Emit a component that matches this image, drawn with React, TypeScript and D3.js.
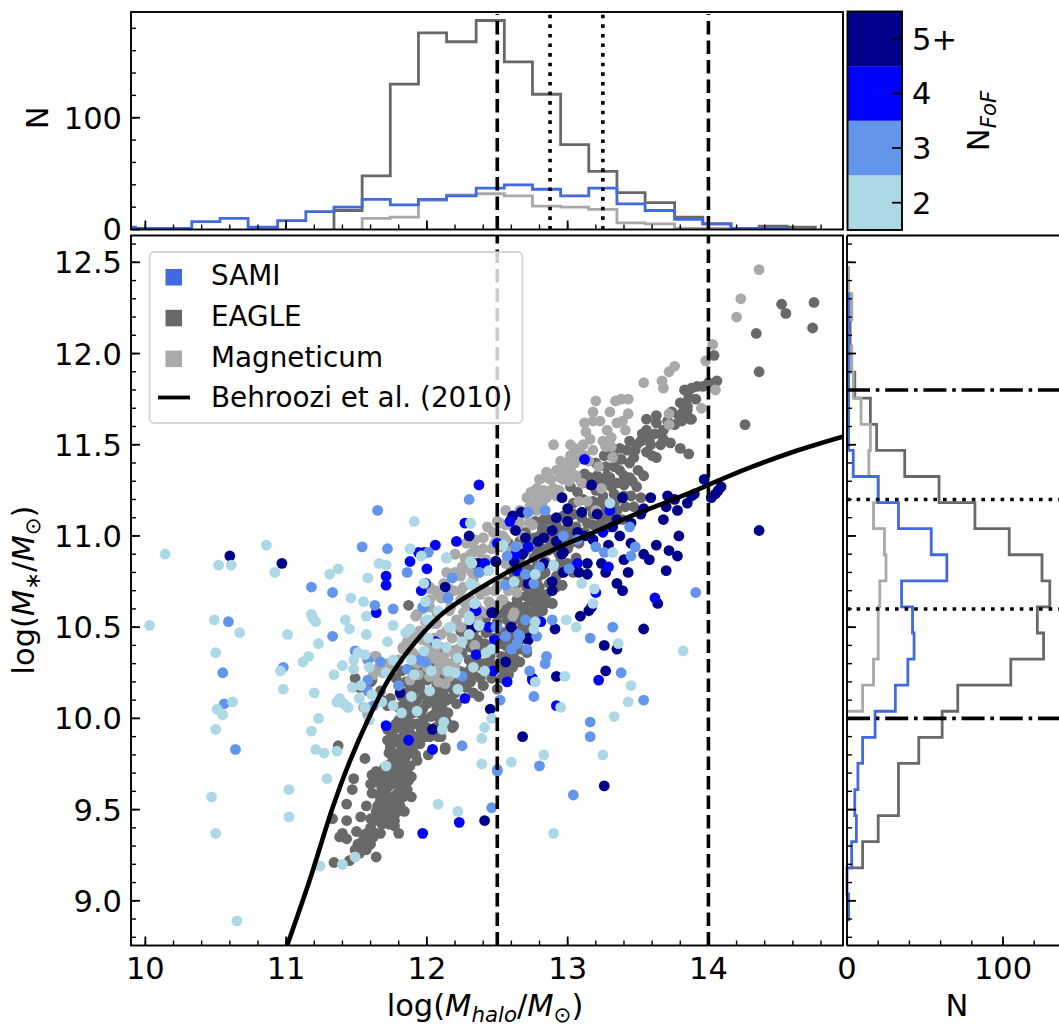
import React from 'react'
import * as d3 from 'd3'

type Pt = [number, number]

// scatter values, [log Mhalo, log Mstar]
const samiN5: Pt[] = [
  [10.6,10.89],[10.97,10.85],[11.98,10.91],[12.3,11.0],[12.13,10.72],[12.34,10.85],[12.49,10.86],[12.46,10.58],[12.33,10.5],[11.81,10.14],[12.45,10.05],[12.04,9.94],
  [13.17,11.28],[12.96,11.21],[13.39,11.21],[13.0,11.15],[13.1,11.13],[12.92,11.1],[13.21,11.12],[13.0,11.08],[12.89,11.03],[13.07,11.02],[12.83,10.99],[12.79,10.97],[12.7,10.99],[12.63,11.03],[12.61,11.11],[12.67,11.13],
  [13.12,11.0],[13.18,10.98],[13.32,11.05],[13.37,11.0],[13.35,11.09],[13.45,11.07],[13.52,11.12],[13.54,11.15],[13.59,11.21],[13.7,11.16],[13.68,11.09],[13.78,11.14],[13.85,11.18],[13.88,11.22],[13.9,11.23],[13.71,11.22],[13.76,11.2],[13.97,11.31],[14.02,11.21],[14.07,11.25],[14.05,11.23],[14.09,11.27],
  [13.79,11.0],[13.78,10.89],[13.72,10.92],[13.63,10.95],[13.45,10.96],[13.54,10.9],[13.58,10.87],[13.4,10.87],[13.43,10.8],[13.7,10.81],[13.29,10.95],[13.24,10.85],[13.27,10.8],[13.35,10.74],[13.39,10.7],[13.14,10.85],[13.14,10.79],[13.08,10.8],[12.97,10.8],[12.96,10.9],[12.92,10.97],[12.97,10.91],[12.89,10.75],[12.89,10.7],[12.83,10.85],[12.72,10.74],[12.62,10.86],[12.68,10.9],[12.49,10.86],[12.37,10.85],
  [13.17,10.61],[13.15,10.59],[13.09,10.56],[12.91,10.49],[12.6,10.5],[13.54,10.49],[13.64,10.63],[12.47,10.58],[12.32,10.5],[12.72,10.44],[13.26,10.4],[13.35,10.38],[13.27,10.26],[13.26,9.63],[12.41,9.44],[12.68,9.9],[12.92,10.23],[12.75,10.22],[12.56,10.31],[12.72,10.43],[14.36,11.03]
]

const samiN4: Pt[] = [
  [12.37,11.28],[12.27,11.07],[12.06,10.95],[12.21,10.97],[11.94,10.91],[11.88,10.86],[12.0,10.82],[12.41,10.85],[12.5,10.96],[11.71,10.78],[11.71,10.73],[11.99,10.74],[11.96,10.7],[11.64,10.58],[12.35,10.59],[12.44,10.5],[12.48,10.43],[12.35,10.35],[12.47,10.26],[12.27,10.11],[11.71,9.96],[11.87,9.88],[12.04,9.83],[12.06,10.42],
  [13.12,11.42],[13.3,11.14],[12.59,11.08],[12.72,10.94],[13.25,11.02],[13.29,10.83],[13.07,10.85],[12.64,10.81],[13.62,10.66],[13.2,10.69],[12.34,10.59],[12.81,10.53],[12.63,10.9],[13.22,10.21],[12.57,10.2],[12.75,10.21],[12.92,10.07],[12.23,9.43],[11.97,9.37]
]

const samiN3: Pt[] = [
  [11.65,11.14],[11.54,10.94],[11.72,10.93],[11.86,10.8],[12.3,11.2],[12.01,10.91],[11.18,10.72],[11.33,10.69],[11.63,10.62],[11.76,10.6],[10.59,10.53],[11.33,10.45],[11.49,10.37],[11.58,10.32],[10.98,10.28],[10.55,10.25],[11.67,10.31],[11.86,10.27],[11.95,10.32],[11.99,10.31],[10.56,10.08],[10.64,9.83],[11.58,10.21],[11.58,10.15],[11.62,10.07],[11.8,10.18],[12.15,10.66],[11.97,10.61],[12.18,10.77],[12.37,10.8],[12.25,10.23],[12.25,9.85],[12.5,9.72],[12.5,10.5],
  [12.84,11.14],[12.72,11.13],[12.97,11.0],[13.07,10.98],[13.2,10.94],[13.26,10.91],[13.48,10.94],[13.45,10.89],[13.44,11.05],[13.91,10.69],[12.14,10.88],[12.63,10.94],[12.57,10.89],[12.8,10.83],[13.01,10.82],[12.7,10.79],[12.56,10.73],[12.76,10.74],[12.37,10.8],[12.18,10.77],[12.15,10.66],[11.98,10.61],[12.49,10.5],[12.89,10.54],[12.7,10.54],[12.78,10.45],[12.66,10.45],[13.32,10.5],[13.16,10.44],[12.56,10.45],
  [13.38,10.25],[13.54,10.1],[13.16,9.98],[13.16,9.9],[13.04,9.58],[12.5,9.71],[12.46,9.51],[12.8,9.74],[12.52,10.1],[12.76,10.12],[12.73,10.26],[12.84,10.3],[12.85,10.34],[12.65,10.46],[12.6,10.38],[12.64,10.41],[12.71,10.38]
]

const samiN2: Pt[] = [
  [10.14,10.9],[10.86,10.95],[10.52,10.84],[10.61,10.84],[10.92,10.8],[10.03,10.51],[10.49,10.54],[10.67,10.47],[11.01,10.46],[10.5,10.36],[10.96,10.26],[10.98,10.16],[10.62,10.09],[10.51,10.05],[10.55,10.02],[10.5,9.94],[10.65,8.89],[10.47,9.57],[10.5,9.37],[11.02,9.61],[11.02,9.46],
  [11.31,10.79],[11.37,10.82],[11.58,10.77],[11.66,10.85],[11.71,10.84],[11.91,11.08],[11.88,10.93],[11.96,10.89],[11.46,10.66],[11.55,10.64],[11.18,10.57],[11.19,10.55],[11.21,10.53],[11.42,10.54],[11.57,10.56],[11.45,10.49],[11.57,10.46],[11.76,10.51],[11.72,10.42],[11.23,10.41],[11.16,10.34],[11.12,10.31],[11.34,10.24],[11.4,10.29],[11.48,10.32],[11.48,10.27],[11.51,10.36],[11.56,10.35],[11.59,10.28],[11.2,10.14],[11.38,10.11],[11.36,10.09],[11.41,10.08],[11.44,10.06],[11.47,10.17],[11.53,10.18],[11.52,10.11],[11.56,10.06],[11.61,10.13],[11.68,10.09],[11.76,10.07],[11.71,10.25],[11.76,10.32],[11.82,10.03],[11.59,9.99],[11.23,10.0],[11.18,9.93],[11.21,9.83],[11.27,9.81],[11.36,9.82],[11.29,9.67],[11.71,9.74],
  [11.88,10.49],[11.85,10.47],[11.89,10.32],[11.91,10.24],[11.98,10.37],[12.03,10.26],[12.01,10.44],[12.07,10.41],[12.14,10.39],[12.01,10.54],[12.17,10.5],[12.25,10.42],[12.22,10.33],[12.15,10.26],[12.2,10.25],[12.33,10.28],[12.41,10.26],[12.22,10.16],[12.02,10.15],[11.89,10.12],[11.93,10.04],[12.12,9.98],[12.11,9.94],[12.46,10.0],[12.41,9.95],[12.39,9.89],[12.39,9.75],[12.3,10.55],[12.3,10.46],[12.37,10.51],[12.34,10.63],[12.32,10.73],[12.32,10.85],[12.14,10.88],[12.31,11.07],[12.42,10.36],[12.46,10.38],[11.99,10.64],[11.98,10.74],[12.35,10.72],
  [12.31,11.07],[12.54,10.95],[12.14,10.88],[12.31,10.86],[12.9,10.84],[12.77,10.79],[12.62,10.75],[12.31,10.74],[12.44,10.81],[13.1,10.74],[13.19,10.71],[13.3,11.18],[13.32,10.91],[13.18,10.63],[12.99,10.54],[13.06,10.5],[12.77,10.53],[12.76,10.49],[12.37,10.51],[12.3,10.56],[12.3,10.54],[12.34,10.63],[12.16,10.5],[12.0,10.54],[12.08,10.59],
  [13.82,10.37],[13.36,10.41],[13.43,10.09],[13.33,10.01],[13.25,9.8],[12.08,9.53],[12.22,9.49],[12.9,9.37],[11.49,9.24],[11.4,9.2],[11.24,9.19],[12.6,9.76],[12.83,9.8],[12.77,10.2],[12.95,10.06],[12.98,10.23],[13.45,10.18]
]

const eagle: Pt[] = [
  // low mass tail
  [11.34,9.21],[11.45,9.22],[11.64,9.24],[11.8,9.37],[11.4,9.37],[11.43,9.34],[11.43,9.44],[11.43,9.53],[11.47,9.61],[11.48,9.67],[11.56,9.78],[11.37,9.85],[11.38,9.35],[11.33,9.45],
  [11.49,9.28],[11.54,9.3],[11.57,9.28],[11.51,9.31],[11.58,9.33],[11.57,9.37],[11.5,9.38],[11.64,9.37],[11.67,9.37],[11.53,9.46],[11.57,9.52],[11.63,9.44],[11.67,9.46],[11.69,9.5],[11.71,9.52],[11.77,9.44],[11.73,9.42],[11.77,9.41],[11.84,9.49],[11.74,9.54],[11.79,9.53],[11.67,9.55],[11.7,9.59],[11.76,9.57],[11.83,9.57],[11.89,9.57],[11.86,9.61],[11.81,9.63],[11.75,9.64],[11.68,9.61],[11.61,9.59],[11.6,9.64],[11.61,9.69],[11.64,9.71],[11.69,9.69],[11.89,9.68],[11.86,9.74],[11.81,9.75],[11.79,9.79],[11.73,9.81],[11.74,9.84],[11.81,9.86],[11.88,9.81],[11.93,9.77],[11.77,9.74],[11.81,9.7],[11.86,9.7],[11.75,9.92],[11.79,9.95],[11.83,9.94],[11.9,9.97],[11.96,9.94],[12.02,9.9],[12.1,9.9],[12.13,9.84],[12.01,9.8],[11.95,9.86],[11.91,9.9],[11.86,10.0],[11.9,10.03],[11.98,10.0],[12.03,10.01],[12.09,10.0],[12.19,9.96],[12.15,10.03],[12.21,10.08],[12.14,10.1],[12.07,10.06],[12.0,10.08],[11.93,10.1],[11.86,10.1],[11.88,10.16],[11.95,10.17],[12.0,10.21],[12.07,10.19],[12.09,10.14],[12.03,10.14],
  [11.8,9.99],[11.84,10.05],[11.95,10.03],[12.02,10.11],[11.92,9.8],[11.84,9.82],[11.88,9.86],[11.78,9.89],[11.85,9.9],[12.06,9.95],[11.99,9.9],[11.72,9.88],[11.82,9.78],[11.76,9.7],[11.72,9.62],[11.65,9.52],[11.74,9.47],[11.6,9.4],
  [11.52,9.26],[11.55,9.34],[11.6,9.31],[11.62,9.35],[11.6,9.45],[11.64,9.49],[11.68,9.42],[11.71,9.46],[11.74,9.5],[11.78,9.48],[11.81,9.52],[11.66,9.58],[11.72,9.56],[11.79,9.59],[11.64,9.65],[11.67,9.66],[11.72,9.67],[11.78,9.67],[11.83,9.65],[11.87,9.66],[11.7,9.73],[11.74,9.75],[11.79,9.72],[11.84,9.73],[11.88,9.74],[11.76,9.78],[11.8,9.81],[11.85,9.79],[11.9,9.84],[11.76,9.87],[11.82,9.89],[11.88,9.92],[11.94,9.9],[11.72,9.94],[11.78,9.97],[11.83,10.0],[11.86,9.97],[11.93,9.97],[11.97,9.97],[12.0,9.95],[12.04,9.92],[12.08,9.93],[12.11,9.95],[12.14,9.98],[12.12,10.04],[12.05,10.02],[11.97,10.05],[11.91,10.06],[11.84,10.08],[11.8,10.06],[11.82,10.12],[11.9,10.13],[11.98,10.13],[12.05,10.1],[12.11,10.08],[12.17,10.11],[12.2,10.14],[12.12,10.16],[12.22,10.19],[12.17,10.22],[12.1,10.22],[12.04,10.24],[11.96,10.21],[11.92,10.23],[11.85,10.2],[11.8,10.18],[11.78,10.22],[11.82,10.26],[11.88,10.27],[11.95,10.27],[12.02,10.3],[11.98,10.32],[12.1,10.27],[12.16,10.26],
  [11.74,10.11],[11.68,10.1],[11.67,10.15],[11.49,10.22],[11.61,10.21],[11.52,10.17],[11.6,10.2],[11.56,10.17],[11.72,10.07],[11.69,10.09],[12.18,9.95],[12.13,9.83],[12.08,9.9],[12.4,10.18],[12.3,10.21],[12.26,10.25],[11.87,10.62],[11.9,10.44],
  // middle of the band
  [11.95,10.16],[12.07,10.17],[12.26,10.21],[12.31,10.2],[12.4,10.18],[12.16,10.17],[12.0,10.23],[11.9,10.19],[11.83,10.14],[12.12,10.12],[12.31,10.27],[12.4,10.3],[12.45,10.34],[12.33,10.47],[12.41,10.41],[12.26,10.43],[12.19,10.37],[12.31,10.39],[12.21,10.32],[12.09,10.39],[12.23,10.26],[12.35,10.33],[12.46,10.22],[12.25,10.36],[12.38,10.37],
  [12.28,10.17],[12.33,10.14],[12.37,10.12],[12.33,10.24],[12.38,10.22],[12.43,10.26],[12.3,10.32],[12.36,10.29],[12.42,10.3],[12.47,10.29],[12.48,10.38],[12.43,10.38],[12.36,10.43],[12.29,10.43],[12.24,10.48],[12.3,10.51],[12.36,10.5],[12.43,10.48],
  [12.5,10.16],[12.53,10.22],[12.58,10.24],[12.52,10.3],[12.57,10.32],[12.62,10.33],[12.66,10.31],[12.56,10.4],[12.62,10.41],[12.66,10.38],[12.7,10.44],[12.6,10.46],[12.65,10.48],[12.71,10.49],[12.76,10.47],[12.74,10.53],[12.68,10.56],[12.63,10.58],[12.57,10.54],[12.52,10.58],[12.78,10.58],[12.84,10.63],[12.8,10.62],[12.85,10.68],[12.8,10.72],[12.87,10.74],[12.74,10.74],[12.68,10.77],[12.62,10.78],[12.72,10.82],[12.78,10.83],[12.84,10.8],[12.9,10.84],[12.96,10.8],[13.0,10.85],[13.04,10.8],[12.94,10.9],[13.02,10.96],[12.96,10.98],[12.88,10.96],[12.82,10.93],[12.78,10.92],[12.72,10.96],[12.66,10.88],[12.62,10.9],[12.58,10.96],[12.66,10.97],[12.7,11.02],[12.8,11.0],[12.86,11.03],[12.92,11.06],[13.0,11.02],[13.06,11.05],[13.12,11.02],[13.18,11.06],[13.24,11.08],[13.3,11.1],[13.1,11.12],[13.16,11.16],[13.22,11.18],[13.28,11.18],[13.34,11.19],[13.4,11.22],[13.45,11.22],[13.4,11.28],[13.46,11.3],[13.31,11.27],[13.23,11.3],[13.16,11.32],[13.08,11.32],[13.2,11.4],[13.26,11.44],[13.3,11.47],[13.38,11.42],[13.44,11.4],[13.5,11.36],[13.54,11.33],[13.48,11.47],[13.52,11.52],[13.58,11.53],[13.6,11.44],[13.66,11.5],[13.68,11.58],[13.71,11.63],[13.74,11.68],[13.82,11.68],[13.86,11.76],[13.83,11.8],[13.92,11.82],
  [12.54,10.27],[12.61,10.28],[12.53,10.34],[12.59,10.37],[12.66,10.43],[12.71,10.36],[12.53,10.41],[12.54,10.47],[12.59,10.5],[12.54,10.58],[12.61,10.61],[12.69,10.61],[12.76,10.63],[12.8,10.67],[12.71,10.67],[12.78,10.72],[12.71,10.72],[12.82,10.59],[12.89,10.63],[12.82,10.79],[12.78,10.98],[12.83,11.09],[12.87,11.09],[12.87,10.99],[12.95,11.03],[12.99,11.09],[13.04,10.99],[13.04,11.12],[12.96,10.73],[12.92,10.78],[12.66,10.67],[12.42,10.47],[12.5,10.53],[12.57,10.44],[12.62,10.54],[12.68,10.52],[12.56,10.62],[12.48,10.44],[12.42,10.55],[12.46,10.62],[12.64,10.74],[12.74,10.79],[12.84,10.86],[12.9,10.93],[12.94,10.85],[13.0,10.93],[13.06,10.88],[13.08,10.96],[12.86,10.92],[12.76,10.88],[12.68,10.82],[12.6,10.82],[12.56,10.75],[12.7,10.92],
  // upper branch
  [13.88,11.81],[13.91,11.75],[13.8,11.73],[13.85,11.69],[13.79,11.66],[13.88,11.64],[13.63,11.66],[13.56,11.64],[13.63,11.62],[13.56,11.58],[13.53,11.56],[13.62,11.56],[13.68,11.53],[13.73,11.51],[13.8,11.48],[13.86,11.45],[13.44,11.52],[13.49,11.5],[13.42,11.47],[13.59,11.5],[13.56,11.46],[13.63,11.43],[13.47,11.43],[13.37,11.48],[13.33,11.43],[13.27,11.38],[13.37,11.36],[13.4,11.33],[13.33,11.38],[13.44,11.32],[13.49,11.27],[13.52,11.21],[13.35,11.29],[13.28,11.33],[13.21,11.33],[13.12,11.34],[13.11,11.29],[13.02,11.27],[13.07,11.24],[13.2,11.25],[13.33,11.23],[13.25,11.22],[13.18,11.19],[13.11,11.2],[13.04,11.18],[13.35,11.14],[13.41,11.16],[13.47,11.16],[13.18,11.12],[13.04,11.12],[12.97,11.11],[12.85,11.09],[12.77,11.08],[12.82,11.04],[12.76,10.99],[13.14,11.07],[13.28,11.11],[12.92,10.72],[12.96,10.73],[12.89,10.63],[12.82,10.59],[12.77,10.69],[12.78,10.76],[12.71,10.72],[12.64,10.65],[12.66,10.61],[12.58,10.6],[12.73,10.65],[12.73,10.58],
  [14.75,12.28],[14.52,12.27],[14.55,12.22],[14.74,12.14],[14.34,12.11],[14.36,11.9],[14.26,11.61],[14.04,11.99],[14.06,11.85],[14.0,11.84],[13.96,11.82],[13.85,11.71],[13.85,11.66],[13.87,11.64],[13.81,11.63],[13.76,11.61],
  [13.15,11.0],[13.22,11.05],[13.1,11.1],[13.25,11.15],[12.92,11.02],[13.0,11.05],[13.3,11.05],[13.39,11.09],[13.3,11.32],[13.16,11.28],[13.25,11.29]
]

const magneticum: Pt[] = [
  [14.36,12.46],[14.23,12.3],[14.2,12.2],[14.03,12.05],[13.98,11.96],[14.05,11.8],[13.95,11.7],[13.76,11.93],[13.72,11.9],[13.54,11.84],[13.67,11.85],[13.68,11.81],[13.38,11.75],[13.43,11.75],[13.2,11.74],[13.18,11.68],[13.43,11.67],[13.39,11.63],[13.23,11.63],[13.18,11.63],[13.72,11.67],[13.72,11.61],[13.41,11.58],[13.28,11.58],[13.31,11.54],[13.13,11.57],[13.16,11.53],[12.9,11.5],[13.11,11.5],[13.05,11.48],[13.18,11.47],[13.27,11.49],[13.31,11.49],[13.04,11.44],[12.95,11.41],[13.05,11.4],[13.1,11.43],[12.85,11.35],[12.97,11.36],[12.95,11.32],[12.8,11.31],[12.88,11.31],[12.83,11.25],[12.9,11.26],[12.97,11.31],[13.32,11.43],[13.22,11.38],[13.1,11.29],[13.24,11.26],[13.08,11.19],[13.14,11.19],[13.2,11.14],[12.85,11.21],[12.92,11.22],
  [12.71,11.21],[12.79,11.22],[12.73,11.16],[12.52,11.07],[12.49,11.01],[12.4,10.99],[12.34,10.93],[12.2,10.9],[12.25,10.83],[12.14,10.8],[12.38,10.92],[12.75,11.06],[12.64,10.94],[12.54,11.0],[12.52,10.94],[12.24,10.78],[12.43,10.81],[12.33,10.76],[12.19,10.7],[12.26,10.72],[12.09,10.67],[12.02,10.61],[12.17,10.61],[12.24,10.65],[12.38,10.69],[12.45,10.63],[12.31,10.63],[12.53,10.65],[12.64,10.69],[12.52,10.74],[12.62,10.58],
  [12.4,10.99],[12.37,10.91],[12.31,10.9],[12.4,10.93],[12.27,10.88],[12.24,10.79],[12.32,10.8],[12.16,10.71],[12.1,10.66],[12.24,10.7],[12.02,10.72],[11.93,10.57],[11.99,10.53],[12.07,10.58],[12.16,10.59],[12.31,10.65],[12.38,10.68],[12.44,10.64],[12.38,10.59],[12.26,10.58],[12.21,10.54],[12.14,10.48],[12.07,10.52],[11.9,10.45],[11.83,10.39],[12.07,10.39],[12.12,10.34],[12.02,10.36],[12.09,10.3],[12.16,10.3],[12.02,10.23],[11.93,10.3],[11.63,10.34],[11.74,10.27],[11.97,10.43],[12.34,10.4],[12.54,10.65],[12.61,10.56],[12.73,11.07],[12.66,11.07],[12.78,11.14],[12.5,11.01],[12.46,10.93],
  [11.64,10.34],[11.69,10.25],[11.55,10.06],[11.92,10.56],[12.02,10.71],[12.08,10.58],[12.13,10.66],[12.2,10.9],[12.25,10.82],[12.35,10.92],[12.47,11.02],[12.3,10.88],[12.08,10.34],[12.02,10.23],[12.1,10.31],[12.19,10.36],[12.02,10.39],[12.13,10.19],[12.16,10.23],[11.83,10.38],[11.88,10.21],[12.56,10.85],[12.6,10.92],[12.68,11.0],[13.0,11.33],[13.02,11.37],[12.94,11.25],
  [12.56,10.98],[12.62,11.04],[12.7,11.12],[12.76,11.18],[12.82,11.18],[12.88,11.25],[12.86,11.32],[12.92,11.36],[12.99,11.4],[13.02,11.44],[13.08,11.46],[13.12,11.44],[13.15,11.41],[13.06,11.33],[13.01,11.3],[12.78,11.26],[12.74,11.24],[12.66,11.14],[12.6,11.1],[12.56,11.06],[12.48,10.96],[12.42,10.87],[12.37,10.85],[12.3,10.82],[12.2,10.8],[12.12,10.74],[12.06,10.7],[12.02,10.65],[11.97,10.6],[12.04,10.52],[12.1,10.46],[12.18,10.44],[12.24,10.5],[12.28,10.62],[12.35,10.62],[12.42,10.7],[12.48,10.7],[12.5,10.62],[12.58,10.7],[12.42,10.58],[12.36,10.54],
  [12.05,10.44],[12.0,10.44],[11.95,10.48],[11.86,10.42],[11.9,10.36],[11.96,10.34],[12.04,10.33],[12.13,10.26],[12.06,10.25],[12.08,10.2],[12.0,10.28],[11.94,10.24],[11.8,10.32],[11.72,10.3],[11.66,10.28],[11.62,10.24],[11.58,10.02],[11.6,10.06],[12.2,10.28],[12.22,10.38],[12.5,10.72],[12.28,10.96],[12.34,10.98],[12.43,11.05],[12.5,11.08],[12.56,11.14],[13.35,11.62],[13.25,11.52],[13.12,11.62],[13.02,11.5],[13.3,11.68],[13.34,11.74]
]

const behroozi: Pt[] = [
  [11.0,8.74],[11.17,9.12],[11.33,9.51],[11.45,9.76],[11.58,9.99],[11.74,10.23],[11.93,10.43],[12.12,10.58],[12.5,10.77],[12.9,10.925],[13.14,11.005],[13.47,11.115],[13.85,11.23],[14.0,11.28],[14.28,11.37],[14.6,11.46],[14.96,11.545]
]

// top panel histograms (halo mass)
const massEdges = [9.73,9.93,10.13,10.33,10.53,10.73,10.94,11.14,11.34,11.54,11.74,11.94,12.14,12.35,12.55,12.75,12.95,13.15,13.35,13.55,13.76,13.96,14.16,14.36,14.56,14.76]
const massSami = [2,1,1,7,10,2,8,16,20,27,22,27,30,37,40,36,30,37,23,17,9,5,1,1,0]
const massEagle = [0,0,0,0,0,0,0,0,17,48,130,176,168,187,150,121,76,52,33,24,11,5,1,3,2]
const massMagneticum = [0,0,0,0,0,0,0,0,0,10,11,26,31,32,30,21,20,18,6,5,1,1,0,0,0]

// right panel histograms (stellar mass), top bin first
const starEdges = [12.47,12.327,12.184,12.041,11.898,11.755,11.612,11.469,11.326,11.183,11.04,10.897,10.754,10.611,10.468,10.325,10.182,10.039,9.896,9.753,9.61,9.467,9.324,9.181,9.038,8.895]
const starSami = [0,1,1,1,1,1,1,4,20,33,54,64,35,42,43,39,31,18,10,7,5,6,3,0,1]
const starEagle = [1,3,2,3,5,15,19,37,59,82,104,125,130,122,126,105,71,61,46,33,33,20,10,0,0]
const starMagneticum = [1,3,1,3,4,9,15,14,20,17,24,25,21,20,20,17,10,0,0,0,0,0,0,0,0]

const nfofLabels = ['2', '3', '4', '5+']
const nfofColors = ['#add8e6', '#6495ed', '#0000ff', '#00008b']

const SAMI = '#4169e1'
const EAGLE = '#696969'
const MAGN = '#a9a9a9'
const FONT = "'DejaVu Sans', sans-serif"
const FS = 30.5
const SUB = 21.3
const LEG = 27.8
const LW = 3.6

const mainBox = { l: 131, r: 843, t: 235.5, b: 945.5 }
const topBox = { l: 131, r: 843, t: 12, b: 229.5 }
const sideBox = { l: 847, r: 1059, t: 235.5, b: 945.5 }
const barBox = { l: 847.5, r: 902, t: 11.5, b: 230 }

const x = d3.scaleLinear().domain([9.898, 14.956]).range([mainBox.l, mainBox.r])
const y = d3.scaleLinear().domain([8.755, 12.647]).range([mainBox.b, mainBox.t])
const yTop = d3.scaleLinear().domain([0, 194.6]).range([topBox.b, topBox.t])
const xSide = d3.scaleLinear().domain([0, 135.9]).range([sideBox.l, sideBox.r])
const yBar = d3.scaleLinear().domain([0, 4]).range([barBox.b, barBox.t])

const stepPts = (edges: number[], counts: number[]) => {
  const first = counts.findIndex((c) => c > 0)
  let last = counts.length - 1
  while (counts[last] === 0) last--
  const out: Pt[] = [[edges[first], 0]]
  for (let i = first; i <= last; i++) {
    out.push([edges[i], counts[i]], [edges[i + 1], counts[i]])
  }
  out.push([edges[last + 1], 0])
  return out
}

const topLine = d3.line<Pt>().x((d) => x(d[0])).y((d) => yTop(d[1]))
const sideLine = d3.line<Pt>().x((d) => xSide(d[1])).y((d) => y(d[0]))
const curveLine = d3.line<Pt>().x((d) => x(d[0])).y((d) => y(d[1])).curve(d3.curveCatmullRom)

const ticks = (lo: number, hi: number, step: number) =>
  d3.range(Math.round(lo / step), Math.round(hi / step) + 1).map((i) => i * step)

const Spots = ({ pts, fill }: { pts: Pt[]; fill: string }) => (
  <g fill={fill}>
    {pts.map((d, i) => (
      <circle key={i} cx={x(d[0])} cy={y(d[1])} r={5.4} />
    ))}
  </g>
)

const XTicks = ({ box, scale, major, minor }: any) => (
  <g stroke="#000">
    {minor.map((v: number) => (
      <line key={v} x1={scale(v)} x2={scale(v)} y1={box.b} y2={box.b - 5} strokeWidth={1.4} />
    ))}
    {major.map((v: number) => (
      <line key={v} x1={scale(v)} x2={scale(v)} y1={box.b} y2={box.b - 9} strokeWidth={1.8} />
    ))}
  </g>
)

const YTicks = ({ box, scale, major, minor }: any) => (
  <g stroke="#000">
    {minor.map((v: number) => (
      <line key={v} y1={scale(v)} y2={scale(v)} x1={box.l} x2={box.l + 5} strokeWidth={1.4} />
    ))}
    {major.map((v: number) => (
      <line key={v} y1={scale(v)} y2={scale(v)} x1={box.l} x2={box.l + 9} strokeWidth={1.8} />
    ))}
  </g>
)

const Frame = ({ box }: any) => (
  <rect x={box.l} y={box.t} width={box.r - box.l} height={box.b - box.t} fill="none" stroke="#000" strokeWidth={1.9} />
)

const legendRows = [
  { label: 'SAMI', color: SAMI },
  { label: 'EAGLE', color: EAGLE },
  { label: 'Magneticum', color: MAGN }
]

export default function App() {
  const xMajor = ticks(10, 14, 1)
  const xMinor = ticks(10, 14.8, 0.2)
  const yMajor = ticks(9, 12.5, 0.5)
  const yMinor = ticks(8.8, 12.6, 0.1)
  const nSideMinor = ticks(20, 120, 20)
  const nTopMinor = ticks(20, 180, 20)

  return (
    <svg
      width={1059}
      height={1026}
      style={{ position: 'absolute', left: 0, top: 0, background: '#fff' }}
      fontFamily={FONT}
      fontSize={FS}
    >
      <defs>
        <clipPath id="mainClip">
          <rect x={mainBox.l} y={mainBox.t} width={mainBox.r - mainBox.l} height={mainBox.b - mainBox.t} />
        </clipPath>
        <clipPath id="topClip">
          <rect x={topBox.l} y={topBox.t} width={topBox.r - topBox.l} height={topBox.b - topBox.t} />
        </clipPath>
      </defs>

      {/* top histogram */}
      <g clipPath="url(#topClip)" fill="none" strokeWidth={2.8}>
        <path d={topLine(stepPts(massEdges, massEagle)) as string} stroke={EAGLE} />
        <path d={topLine(stepPts(massEdges, massMagneticum)) as string} stroke={MAGN} />
        <path d={topLine(stepPts(massEdges, massSami)) as string} stroke={SAMI} />
      </g>
      <g stroke="#000" strokeWidth={LW}>
        {[12.5, 14].map((v) => (
          <line key={v} x1={x(v)} x2={x(v)} y1={topBox.b} y2={topBox.t + 2} strokeDasharray="13.5 6" />
        ))}
        {[12.875, 13.25].map((v) => (
          <line key={v} x1={x(v)} x2={x(v)} y1={topBox.b} y2={topBox.t + 2} strokeDasharray="3.6 6" />
        ))}
      </g>
      <XTicks box={topBox} scale={x} major={xMajor} minor={xMinor} />
      <YTicks box={topBox} scale={yTop} major={[0, 100]} minor={nTopMinor} />
      <Frame box={topBox} />
      <g textAnchor="end">
        <text x={122} y={yTop(100)} dy="0.36em">100</text>
        <text x={122} y={yTop(0)} dy="0.36em">0</text>
      </g>
      <text transform={`translate(37,${yTop(100)}) rotate(-90)`} textAnchor="middle" dy="0.36em">N</text>

      {/* colour bar */}
      {nfofColors.map((c, i) => (
        <rect key={c} x={barBox.l} width={barBox.r - barBox.l} y={yBar(i + 1)} height={yBar(i) - yBar(i + 1)} fill={c} />
      ))}
      <rect x={barBox.l} y={barBox.t} width={barBox.r - barBox.l} height={barBox.b - barBox.t} fill="none" stroke="#000" strokeWidth={1.9} />
      {nfofLabels.map((t, i) => (
        <g key={t}>
          <line x1={barBox.r - 10} x2={barBox.r} y1={yBar(i + 0.5)} y2={yBar(i + 0.5)} stroke="#000" strokeWidth={1.8} />
          <text x={912} y={yBar(i + 0.5)} dy="0.36em">{t}</text>
        </g>
      ))}
      <text transform="translate(978,121) rotate(-90)" textAnchor="middle" dy="0.36em">
        N<tspan fontStyle="italic" fontSize={SUB} dy="7">FoF</tspan>
      </text>

      {/* main scatter */}
      <g clipPath="url(#mainClip)">
        <Spots pts={eagle} fill={EAGLE} />
        <Spots pts={magneticum} fill={MAGN} />
        <Spots pts={samiN5} fill={nfofColors[3]} />
        <Spots pts={samiN4} fill={nfofColors[2]} />
        <Spots pts={samiN3} fill={nfofColors[1]} />
        <Spots pts={samiN2} fill={nfofColors[0]} />
        <g stroke="#000" strokeWidth={LW}>
          {[12.5, 14].map((v) => (
            <line key={v} x1={x(v)} x2={x(v)} y1={mainBox.b} y2={mainBox.t} strokeDasharray="13.5 6" />
          ))}
        </g>
        <path d={curveLine(behroozi) as string} fill="none" stroke="#000" strokeWidth={4.6} />
      </g>
      <XTicks box={mainBox} scale={x} major={xMajor} minor={xMinor} />
      <YTicks box={mainBox} scale={y} major={yMajor} minor={yMinor} />
      <Frame box={mainBox} />

      {/* legend */}
      <rect x={149.5} y={252} width={373} height={171} rx={5} fill="#fff" fillOpacity={0.8} stroke="#ccc" strokeOpacity={0.8} strokeWidth={1.9} />
      {legendRows.map((r, i) => (
        <g key={r.label}>
          <rect x={165.5} y={269 + i * 40.8} width={16.5} height={16.5} fill={r.color} />
          <text x={211} y={275.3 + i * 40.8} dy="0.36em" fontSize={LEG}>{r.label}</text>
        </g>
      ))}
      <line x1={158} x2={190} y1={397.5} y2={397.5} stroke="#000" strokeWidth={3.8} />
      <text x={211} y={396.5} dy="0.36em" fontSize={LEG}>Behroozi et al. (2010)</text>

      {xMajor.map((v) => (
        <text key={v} x={x(v)} y={968} dy="0.36em" textAnchor="middle">{v}</text>
      ))}
      {yMajor.map((v) => (
        <text key={v} x={122} y={y(v)} dy="0.36em" textAnchor="end">{v.toFixed(1)}</text>
      ))}
      <text x={485} y={1016} textAnchor="middle">
        log(<tspan fontStyle="italic">M</tspan><tspan fontStyle="italic" fontSize={SUB} dy="6">halo</tspan>
        <tspan dy="-6">/</tspan><tspan fontStyle="italic">M</tspan><tspan fontSize={SUB} dy="6">⊙</tspan><tspan dy="-6">)</tspan>
      </text>
      <text transform={`translate(34,590) rotate(-90)`} textAnchor="middle">
        log(<tspan fontStyle="italic">M</tspan><tspan fontSize={SUB} dy="6">∗</tspan>
        <tspan dy="-6">/</tspan><tspan fontStyle="italic">M</tspan><tspan fontSize={SUB} dy="6">⊙</tspan><tspan dy="-6">)</tspan>
      </text>

      {/* right histogram */}
      <g fill="none" strokeWidth={2.8}>
        <path d={sideLine(stepPts(starEdges, starEagle)) as string} stroke={EAGLE} />
        <path d={sideLine(stepPts(starEdges, starMagneticum)) as string} stroke={MAGN} />
        <path d={sideLine(stepPts(starEdges, starSami)) as string} stroke={SAMI} />
      </g>
      <g stroke="#000" strokeWidth={LW}>
        {[11.8, 10].map((v) => (
          <line key={v} x1={sideBox.l} x2={sideBox.r} y1={y(v)} y2={y(v)} strokeDasharray="23 5.8 3.6 5.8" />
        ))}
        {[11.2, 10.6].map((v) => (
          <line key={v} x1={sideBox.l} x2={sideBox.r} y1={y(v)} y2={y(v)} strokeDasharray="3.6 6" />
        ))}
      </g>
      <XTicks box={sideBox} scale={xSide} major={[0, 100]} minor={nSideMinor} />
      <YTicks box={sideBox} scale={y} major={yMajor} minor={yMinor} />
      <line x1={sideBox.l} x2={sideBox.l} y1={sideBox.t} y2={sideBox.b} stroke="#000" strokeWidth={1.9} />
      <line x1={sideBox.l} x2={1059} y1={sideBox.t} y2={sideBox.t} stroke="#000" strokeWidth={1.9} />
      <line x1={sideBox.l} x2={1059} y1={sideBox.b} y2={sideBox.b} stroke="#000" strokeWidth={1.9} />
      <text x={xSide(0)} y={968} dy="0.36em" textAnchor="middle">0</text>
      <text x={xSide(100)} y={968} dy="0.36em" textAnchor="middle">100</text>
      <text x={957} y={1016} textAnchor="middle">N</text>
    </svg>
  )
}
